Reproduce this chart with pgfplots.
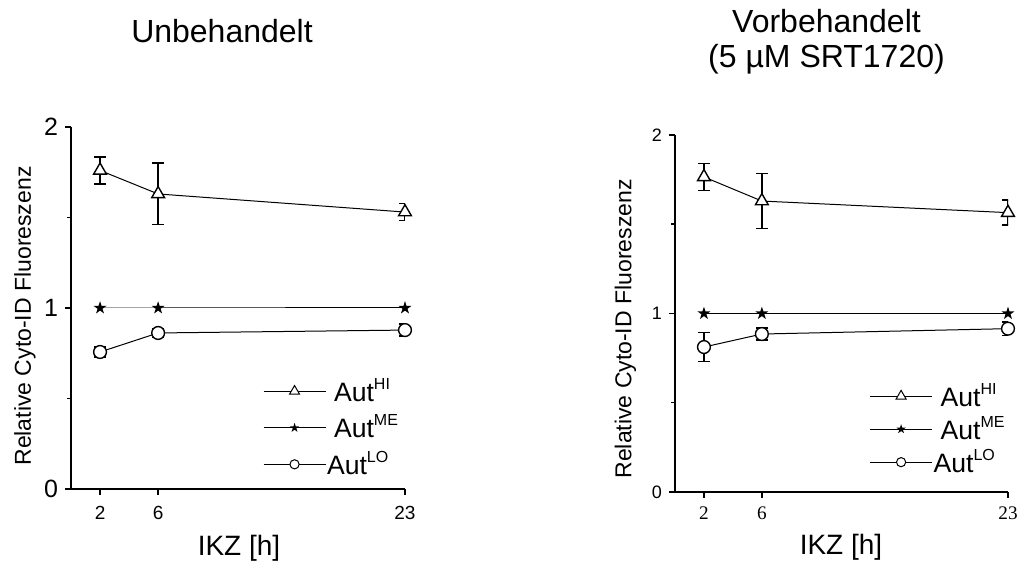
\documentclass[border=0pt]{standalone}
\usepackage{pgfplots}
\pgfplotsset{compat=1.18}
\usepackage{fontspec}
\setmainfont{Liberation Sans}
\newfontfamily\timesfont{Liberation Serif}

\pgfdeclareplotmark{fstar}{%
  \pgfpathmoveto{\pgfpointpolar{90}{\pgfplotmarksize}}%
  \pgfpathlineto{\pgfpointpolar{126}{0.382\pgfplotmarksize}}%
  \pgfpathlineto{\pgfpointpolar{162}{\pgfplotmarksize}}%
  \pgfpathlineto{\pgfpointpolar{198}{0.382\pgfplotmarksize}}%
  \pgfpathlineto{\pgfpointpolar{234}{\pgfplotmarksize}}%
  \pgfpathlineto{\pgfpointpolar{270}{0.382\pgfplotmarksize}}%
  \pgfpathlineto{\pgfpointpolar{306}{\pgfplotmarksize}}%
  \pgfpathlineto{\pgfpointpolar{342}{0.382\pgfplotmarksize}}%
  \pgfpathlineto{\pgfpointpolar{18}{\pgfplotmarksize}}%
  \pgfpathlineto{\pgfpointpolar{54}{0.382\pgfplotmarksize}}%
  \pgfpathclose\pgfusepathqfill}

\newcommand{\supx}[1]{\raisebox{6pt}{\fontsize{8}{8}\selectfont #1}}

\pgfplotsset{
  hi/.style={black, line width=0.5pt, mark=triangle*, mark size=3.7pt,
    mark options={fill=white, draw=black, line width=0.7pt}},
  me/.style={black, line width=0.5pt, mark=fstar, mark size=3.4pt,
    mark options={fill=black}},
  lo/.style={black, line width=0.5pt, mark=*, mark size=3.2pt,
    mark options={fill=white, draw=black, line width=0.7pt}},
  hileg/.style={black, line width=0.5pt, mark=triangle*, mark size=2.9pt,
    mark options={fill=white, draw=black, line width=0.5pt}},
  meleg/.style={black, line width=0.5pt, mark=fstar, mark size=2.5pt,
    mark options={fill=black}},
  loleg/.style={black, line width=0.5pt, mark=*, mark size=2.3pt,
    mark options={fill=white, draw=black, line width=0.5pt}},
  eb/.style={/pgfplots/error bars/.cd, y dir=both, y explicit,
    error bar style={line width=0.7pt, black},
    error mark options={rotate=90, mark size=3pt, line width=0.7pt, black}, /pgfplots/.cd},
  base/.style={
    scale only axis,
    axis lines=left,
    axis line style={-, line width=0.75pt},
    xmin=0, xmax=23, ymin=0, ymax=2,
    xtick={2,6,23}, ytick={0,1,2},
    minor ytick={0.5,1.5},
    tick align=outside,
    major tick length=3pt, minor tick length=2pt,
    tick style={line width=0.75pt, black},
    /pgf/number format/assume math mode=true,
    legend image code/.code={\draw[mark repeat=2,mark phase=2,##1] plot coordinates {(0pt,0pt) (15.5pt,0pt) (31pt,0pt)};},
    legend cell align=left,
  },
}

\begin{document}
\begin{tikzpicture}
\useasboundingbox (0,0) rectangle (509.5pt,280.5pt);

% ---------------- left panel ----------------
\begin{axis}[base,
  at={(35.5pt,36pt)}, anchor=south west,
  width=167pt, height=181pt,
  yticklabel style={font=\fontsize{12.5}{14}\selectfont},
  xticklabel style={font=\fontsize{9.5}{11}\selectfont, yshift=-2.3pt},
  xlabel={IKZ [h]},
  xlabel style={font=\fontsize{14}{16}\selectfont, at={(axis description cs:0.503,-0.185)}, anchor=base},
  ylabel={Relative Cyto-ID Fluoreszenz},
  ylabel style={font=\fontsize{11.5}{13}\selectfont, at={(axis description cs:-0.138,0.478)}, anchor=center},
  legend style={draw=none, fill=none, at={(axis description cs:0.78,0.169)}, anchor=center,
    font=\fontsize{13.3}{14}\selectfont, row sep=4.25pt,
    nodes={inner sep=1pt, text height=11pt, text depth=1pt}},
]
\addlegendimage{hileg}\addlegendentry{\hspace{3pt}Aut\supx{HI}}
\addlegendimage{meleg}\addlegendentry{\hspace{3pt}Aut\supx{ME}}
\addlegendimage{loleg}\addlegendentry{\hspace{-0.5pt}Aut\supx{LO}}
\addplot[forget plot, hi, eb] coordinates {(2,1.76) +- (0,0.075) (6,1.63) +- (0,0.17) (23,1.53) +- (0,0.048)};
\addplot[forget plot, me] coordinates {(2,1) (6,1) (23,1)};
\addplot[forget plot, lo, eb] coordinates {(2,0.757) +- (0,0.027) (6,0.862) +- (0,0.026) (23,0.878) +- (0,0.033)};
\end{axis}

% ---------------- right panel ----------------
\begin{axis}[base,
  at={(337.5pt,34.5pt)}, anchor=south west,
  width=166.5pt, height=178.5pt,
  yticklabel style={font=\fontsize{9}{11}\selectfont},
  xticklabel style={font=\timesfont\fontsize{9.6}{11}\selectfont, yshift=-0.8pt},
  xlabel={IKZ [h]},
  xlabel style={font=\fontsize{14}{16}\selectfont, at={(axis description cs:0.4985,-0.176)}, anchor=base},
  ylabel={Relative Cyto-ID Fluoreszenz},
  ylabel style={font=\fontsize{11.5}{13}\selectfont, at={(axis description cs:-0.149,0.457)}, anchor=center},
  legend style={draw=none, fill=none, at={(axis description cs:0.79,0.176)}, anchor=center,
    font=\fontsize{13.3}{14}\selectfont, row sep=2.5pt,
    nodes={inner sep=1pt, text height=11pt, text depth=1pt}},
]
\addlegendimage{hileg}\addlegendentry{\hspace{3pt}Aut\supx{HI}}
\addlegendimage{meleg}\addlegendentry{\hspace{3pt}Aut\supx{ME}}
\addlegendimage{loleg}\addlegendentry{\hspace{-0.5pt}Aut\supx{LO}}
\addplot[forget plot, hi, eb] coordinates {(2,1.765) +- (0,0.075) (6,1.63) +- (0,0.155) (23,1.565) +- (0,0.07)};
\addplot[forget plot, me] coordinates {(2,1) (6,1) (23,1)};
\addplot[forget plot, lo, eb] coordinates {(2,0.812) +- (0,0.082) (6,0.885) +- (0,0.034) (23,0.915) +- (0,0.037)};
\end{axis}

% ---------------- titles ----------------
\node[anchor=base, font=\fontsize{16}{19}\selectfont, inner sep=0pt] at (111pt,259pt) {Unbehandelt};
\node[anchor=base, font=\fontsize{16}{19}\selectfont, inner sep=0pt] at (413.25pt,264pt) {Vorbehandelt};
\node[anchor=base, font=\fontsize{16}{19}\selectfont, inner sep=0pt] at (413.25pt,246.5pt) {(5 µM SRT1720)};
\end{tikzpicture}
\end{document}
